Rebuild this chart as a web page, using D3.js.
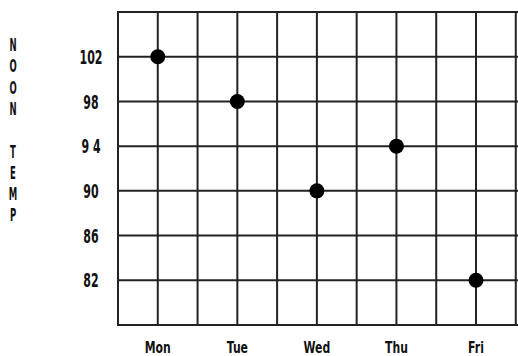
<!DOCTYPE html>
<html><head><meta charset="utf-8">
<script src="https://cdn.jsdelivr.net/npm/d3@7/dist/d3.min.js"></script>
<style>
body{margin:0;background:#fff;}
text{font-family:"DejaVu Sans",sans-serif;font-weight:bold;fill:#111;}
</style></head>
<body>
<svg id="c" width="518" height="356"></svg>
<script>
const days = ["Mon","Tue","Wed","Thu","Fri"];
const temps = [102, 98, 90, 94, 82];
const yTicks = [102, 98, 94, 90, 86, 82];
const yTickLabels = ["102","98","9 4","90","86","82"];
const titleLetters = ["N","O","O","N","","T","E","M","P"];

const svg = d3.select("#c");
const x = d3.scaleLinear().domain([0, 9]).range([118, 476]);
const y = d3.scaleLinear().domain([78, 106]).range([325, 12]);

const g = svg.append("g");
const vlines = d3.range(0, 11);
g.selectAll("line.v").data(vlines).join("line")
  .attr("x1", d => x(d)).attr("x2", d => x(d))
  .attr("y1", y(106)).attr("y2", y(78))
  .attr("stroke", "#222").attr("stroke-width", 2);
const hlines = [106].concat(yTicks).concat([78]);
g.selectAll("line.h").data(hlines).join("line")
  .attr("x1", x(0) - 1).attr("x2", 520)
  .attr("y1", d => y(d)).attr("y2", d => y(d))
  .attr("stroke", "#222").attr("stroke-width", 2);

// y tick labels
svg.selectAll("text.yt").data(yTicks).join("text")
  .attr("transform", d => `translate(91,${y(d)}) scale(0.55,1)`)
  .attr("dy", "0.36em")
  .attr("text-anchor", "middle").attr("font-size", 20)
  .text((d, i) => yTickLabels[i]);

// x labels
svg.selectAll("text.xt").data(days).join("text")
  .attr("transform", (d, i) => `translate(${x(2 * i + 1)},353) scale(0.68,1)`)
  .attr("text-anchor", "middle").attr("font-size", 16)
  .text(d => d);

// y title stacked
svg.selectAll("text.tt").data(titleLetters).join("text")
  .attr("transform", (d, i) => `translate(13,${51 + i * 21.3}) scale(0.5,1)`)
  .attr("text-anchor", "middle").attr("font-size", 17)
  .text(d => d);

// points
svg.selectAll("circle.p").data(temps).join("circle")
  .attr("cx", (d, i) => x(2 * i + 1)).attr("cy", d => y(d))
  .attr("r", 7.5).attr("fill", "#000");
</script>
</body></html>
